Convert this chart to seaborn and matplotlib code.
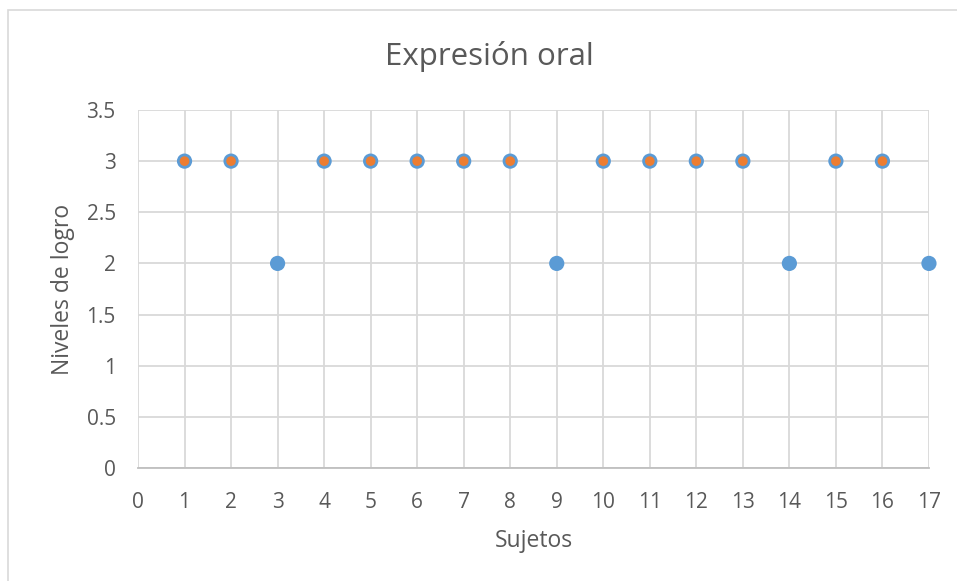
import matplotlib
matplotlib.use("Agg")
import matplotlib.pyplot as plt
import seaborn as sns
import pandas as pd
import numpy as np
from matplotlib.patches import Rectangle

sujetos = list(range(1, 18))
serie_azul = [3, 3, 2, 3, 3, 3, 3, 3, 2, 3, 3, 3, 3, 2, 3, 3, 2]
sujetos_naranja = [1, 2, 4, 5, 6, 7, 8, 10, 11, 12, 13, 15, 16]
serie_naranja = [3, 3, 3, 3, 3, 3, 3, 3, 3, 3, 3, 3, 3]
x_ticks = list(range(0, 18))
y_ticks = [0, 0.5, 1, 1.5, 2, 2.5, 3, 3.5]
y_tick_labels = ["0", "0.5", "1", "1.5", "2", "2.5", "3", "3.5"]

sns.set_style("white")
plt.rcParams['font.family'] = ['Open Sans', 'DejaVu Sans']

fig = plt.figure(figsize=(9.57, 5.81), dpi=100)
ax = fig.add_axes([0.1442, 0.1945, 0.8265, 0.6162])

df_a = pd.DataFrame({"x": sujetos, "y": serie_azul})
df_n = pd.DataFrame({"x": sujetos_naranja, "y": serie_naranja})

sns.scatterplot(data=df_a, x="x", y="y", ax=ax, s=120, color="#5B9BD5",
                edgecolor="none", zorder=3, clip_on=False)
sns.scatterplot(data=df_n, x="x", y="y", ax=ax, s=48, color="#ED7D31",
                edgecolor="none", zorder=4, clip_on=False)

ax.set_xlim(0, 17)
ax.set_ylim(0, 3.5)
ax.set_xticks(x_ticks)
ax.set_yticks(y_ticks)
ax.set_yticklabels(y_tick_labels)
ax.grid(True, color="#D9D9D9", linewidth=1.3)
ax.set_axisbelow(True)
for side in ["top", "right", "left"]:
    ax.spines[side].set_visible(False)
ax.spines["bottom"].set_color("#BFBFBF")
ax.spines["bottom"].set_linewidth(1.3)
ax.tick_params(axis="both", length=0, labelsize=15, labelcolor="#595959")
ax.tick_params(axis="x", pad=17)
ax.tick_params(axis="y", pad=16)

ax.set_xlabel("Sujetos", fontsize=16.5, color="#595959", labelpad=12)
ax.set_ylabel("Niveles de logro", fontsize=16.5, color="#595959", labelpad=8)
fig.text(0.511, 0.902, "Expresión oral", ha="center", va="center",
         fontsize=22.5, color="#595959")

fig.patches.append(Rectangle((8/957, -0.1), 1.2, 1.1 - 10/581, transform=fig.transFigure,
                             fill=False, edgecolor="#D9D9D9", linewidth=1.2))

fig.savefig("out.png", dpi=100)
